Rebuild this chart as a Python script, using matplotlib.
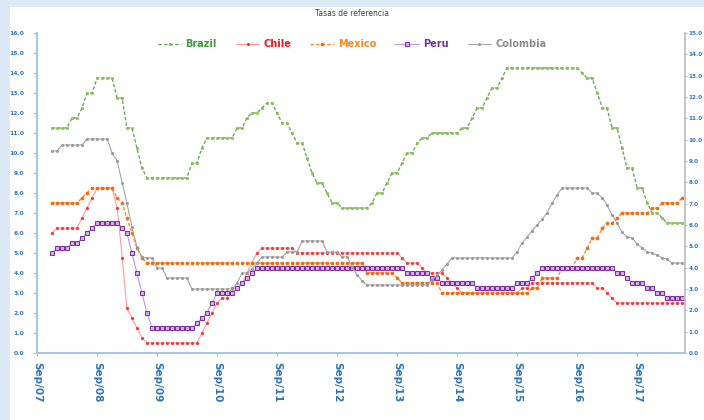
import matplotlib
matplotlib.use("Agg")
import matplotlib.pyplot as plt
from matplotlib.patches import Rectangle
import pandas as pd
from datetime import datetime

plt.rcParams['font.family'] = ['DejaVu Sans']

# monthly observations, Dec 2007 .. Jun 2018 (one row per calendar year)
dates = pd.date_range("2007-12-01", "2018-06-01", freq="MS")

brazil = [11.25,
          11.25, 11.25, 11.25, 11.75, 11.75, 12.25, 13.0, 13.0, 13.75, 13.75, 13.75, 13.75,
          12.75, 12.75, 11.25, 11.25, 10.25, 9.25, 8.75, 8.75, 8.75, 8.75, 8.75, 8.75,
          8.75, 8.75, 8.75, 9.5, 9.5, 10.25, 10.75, 10.75, 10.75, 10.75, 10.75, 10.75,
          11.25, 11.25, 11.75, 12.0, 12.0, 12.25, 12.5, 12.5, 12.0, 11.5, 11.5, 11.0,
          10.5, 10.5, 9.75, 9.0, 8.5, 8.5, 8.0, 7.5, 7.5, 7.25, 7.25, 7.25,
          7.25, 7.25, 7.25, 7.5, 8.0, 8.0, 8.5, 9.0, 9.0, 9.5, 10.0, 10.0,
          10.5, 10.75, 10.75, 11.0, 11.0, 11.0, 11.0, 11.0, 11.0, 11.25, 11.25, 11.75,
          12.25, 12.25, 12.75, 13.25, 13.25, 13.75, 14.25, 14.25, 14.25, 14.25, 14.25, 14.25,
          14.25, 14.25, 14.25, 14.25, 14.25, 14.25, 14.25, 14.25, 14.25, 14.0, 13.75, 13.75,
          13.0, 12.25, 12.25, 11.25, 11.25, 10.25, 9.25, 9.25, 8.25, 8.25, 7.5, 7.0,
          7.0, 6.75, 6.5, 6.5, 6.5, 6.5]

chile = [6.0,
         6.25, 6.25, 6.25, 6.25, 6.25, 6.75, 7.25, 7.75, 8.25, 8.25, 8.25, 8.25,
         7.25, 4.75, 2.25, 1.75, 1.25, 0.75, 0.5, 0.5, 0.5, 0.5, 0.5, 0.5,
         0.5, 0.5, 0.5, 0.5, 0.5, 1.0, 1.5, 2.0, 2.5, 2.75, 2.75, 3.25,
         3.25, 3.5, 4.0, 4.5, 5.0, 5.25, 5.25, 5.25, 5.25, 5.25, 5.25, 5.25,
         5.0, 5.0, 5.0, 5.0, 5.0, 5.0, 5.0, 5.0, 5.0, 5.0, 5.0, 5.0,
         5.0, 5.0, 5.0, 5.0, 5.0, 5.0, 5.0, 5.0, 5.0, 4.75, 4.5, 4.5,
         4.5, 4.25, 4.0, 4.0, 4.0, 4.0, 3.75, 3.5, 3.25, 3.0, 3.0, 3.0,
         3.0, 3.0, 3.0, 3.0, 3.0, 3.0, 3.0, 3.0, 3.0, 3.25, 3.25, 3.5,
         3.5, 3.5, 3.5, 3.5, 3.5, 3.5, 3.5, 3.5, 3.5, 3.5, 3.5, 3.5,
         3.25, 3.25, 3.0, 2.75, 2.5, 2.5, 2.5, 2.5, 2.5, 2.5, 2.5, 2.5,
         2.5, 2.5, 2.5, 2.5, 2.5, 2.5]

mexico = [7.5,
          7.5, 7.5, 7.5, 7.5, 7.5, 7.75, 8.0, 8.25, 8.25, 8.25, 8.25, 8.25,
          7.75, 7.5, 6.75, 6.0, 5.25, 4.75, 4.5, 4.5, 4.5, 4.5, 4.5, 4.5,
          4.5, 4.5, 4.5, 4.5, 4.5, 4.5, 4.5, 4.5, 4.5, 4.5, 4.5, 4.5,
          4.5, 4.5, 4.5, 4.5, 4.5, 4.5, 4.5, 4.5, 4.5, 4.5, 4.5, 4.5,
          4.5, 4.5, 4.5, 4.5, 4.5, 4.5, 4.5, 4.5, 4.5, 4.5, 4.5, 4.5,
          4.5, 4.5, 4.0, 4.0, 4.0, 4.0, 4.0, 4.0, 3.75, 3.5, 3.5, 3.5,
          3.5, 3.5, 3.5, 3.5, 3.5, 3.0, 3.0, 3.0, 3.0, 3.0, 3.0, 3.0,
          3.0, 3.0, 3.0, 3.0, 3.0, 3.0, 3.0, 3.0, 3.0, 3.0, 3.0, 3.25,
          3.25, 3.75, 3.75, 3.75, 3.75, 4.25, 4.25, 4.25, 4.75, 4.75, 5.25, 5.75,
          5.75, 6.25, 6.5, 6.5, 6.75, 7.0, 7.0, 7.0, 7.0, 7.0, 7.0, 7.25,
          7.25, 7.5, 7.5, 7.5, 7.5, 7.75]

peru = [5.0,
        5.25, 5.25, 5.25, 5.5, 5.5, 5.75, 6.0, 6.25, 6.5, 6.5, 6.5, 6.5,
        6.5, 6.25, 6.0, 5.0, 4.0, 3.0, 2.0, 1.25, 1.25, 1.25, 1.25, 1.25,
        1.25, 1.25, 1.25, 1.25, 1.5, 1.75, 2.0, 2.5, 3.0, 3.0, 3.0, 3.0,
        3.25, 3.5, 3.75, 4.0, 4.25, 4.25, 4.25, 4.25, 4.25, 4.25, 4.25, 4.25,
        4.25, 4.25, 4.25, 4.25, 4.25, 4.25, 4.25, 4.25, 4.25, 4.25, 4.25, 4.25,
        4.25, 4.25, 4.25, 4.25, 4.25, 4.25, 4.25, 4.25, 4.25, 4.25, 4.0, 4.0,
        4.0, 4.0, 4.0, 3.75, 3.75, 3.5, 3.5, 3.5, 3.5, 3.5, 3.5, 3.5,
        3.25, 3.25, 3.25, 3.25, 3.25, 3.25, 3.25, 3.25, 3.5, 3.5, 3.5, 3.75,
        4.0, 4.25, 4.25, 4.25, 4.25, 4.25, 4.25, 4.25, 4.25, 4.25, 4.25, 4.25,
        4.25, 4.25, 4.25, 4.25, 4.0, 4.0, 3.75, 3.5, 3.5, 3.5, 3.25, 3.25,
        3.0, 3.0, 2.75, 2.75, 2.75, 2.75]

colombia = [10.1,
            10.1, 10.4, 10.4, 10.4, 10.4, 10.4, 10.7, 10.7, 10.7, 10.7, 10.7, 10.0,
            9.6, 8.5, 7.5, 6.3, 5.3, 4.8, 4.75, 4.75, 4.25, 4.25, 3.75, 3.75,
            3.75, 3.75, 3.75, 3.2, 3.2, 3.2, 3.2, 3.2, 3.2, 3.2, 3.2, 3.2,
            3.5, 4.0, 4.0, 4.2, 4.5, 4.8, 4.8, 4.8, 4.8, 4.8, 5.05, 5.05,
            5.05, 5.6, 5.6, 5.6, 5.6, 5.6, 5.05, 5.05, 5.05, 4.8, 4.8, 4.3,
            3.9, 3.6, 3.4, 3.4, 3.4, 3.4, 3.4, 3.4, 3.4, 3.4, 3.4, 3.4,
            3.4, 3.4, 3.4, 3.65, 3.9, 4.15, 4.45, 4.75, 4.75, 4.75, 4.75, 4.75,
            4.75, 4.75, 4.75, 4.75, 4.75, 4.75, 4.75, 4.75, 5.05, 5.5, 5.8, 6.1,
            6.4, 6.7, 7.0, 7.5, 7.9, 8.25, 8.25, 8.25, 8.25, 8.25, 8.25, 8.0,
            8.0, 7.75, 7.4, 6.9, 6.5, 6.05, 5.8, 5.75, 5.45, 5.25, 5.05, 5.0,
            4.9, 4.75, 4.7, 4.5, 4.5, 4.5]

tick_dates = pd.date_range("2007-09-01", "2017-09-01", freq="12MS")
tick_labels = ['Sep/07', 'Sep/08', 'Sep/09', 'Sep/10', 'Sep/11', 'Sep/12',
               'Sep/13', 'Sep/14', 'Sep/15', 'Sep/16', 'Sep/17']
left_ticks = list(range(0, 17))
right_ticks = list(range(0, 16))

BLUE_TXT = '#2e75b6'
BLUE_AX = '#9dc3e6'

fig = plt.figure(figsize=(7.04, 4.2), dpi=100, facecolor='#dde9f6')
fig.add_artist(Rectangle((10 / 704, 0), 1, 413 / 420, transform=fig.transFigure,
                         facecolor='white', edgecolor='none', zorder=-10))

ax = fig.add_axes([37 / 704, 1 - 353 / 420, 648 / 704, 320 / 420])
ax.set_facecolor('none')

ax.plot(dates, brazil, color='#6aa86a', lw=1.0, ls=(0, (2.5, 1.5)),
        marker='s', ms=1.9, mfc='#8dc63f', mec='#79b83a', mew=0.4, label='Brazil')
ax.plot(dates, chile, color='#ff9a9a', lw=0.8,
        marker='o', ms=1.3, mfc='#ee3b3b', mec='#ee3b3b', label='Chile')
ax.plot(dates, mexico, color='#ff8c2e', lw=1.0, ls=(0, (2.5, 1.5)),
        marker='o', ms=1.6, mfc='#f26b0f', mec='#f26b0f', label='Mexico')
ax.plot(dates, peru, color='#c58fe0', lw=0.8,
        marker='s', ms=2.6, mfc='#d9a8f2', mec='#7a2a9a', mew=0.7, label='Peru')
ax.plot(dates, colombia, color='#a6a6a6', lw=0.8,
        marker='o', ms=1.2, mfc='#9a9a9a', mec='#9a9a9a', label='Colombia')

ax.set_xlim(datetime(2007, 9, 1), datetime(2018, 6, 19))
ax.set_ylim(0, 16)
ax.set_yticks(left_ticks)
ax.set_yticklabels([f'{v:.1f}' for v in left_ticks], fontweight='bold')
ax.set_xticks(tick_dates)
ax.set_xticklabels(tick_labels, rotation=-90, ha='center', va='top', fontweight='bold')

for side in ['top', 'right']:
    ax.spines[side].set_visible(False)
for side in ['left', 'bottom']:
    ax.spines[side].set_color(BLUE_AX)
    ax.spines[side].set_linewidth(1.3)

ax.tick_params(axis='y', colors=BLUE_AX, labelcolor=BLUE_TXT, labelsize=4.3,
               length=3, width=0.8, pad=6)
ax.tick_params(axis='x', colors=BLUE_AX, labelcolor=BLUE_TXT, labelsize=7.5,
               length=2.5, width=0.8, pad=4)

ax2 = ax.twinx()
ax2.set_ylim(0, 15)
ax2.set_yticks(right_ticks)
ax2.set_yticklabels([f'{v:.1f}' for v in right_ticks], fontweight='bold')
for side in ['top', 'left', 'bottom']:
    ax2.spines[side].set_visible(False)
ax2.spines['right'].set_color('#bfbfbf')
ax2.spines['right'].set_linewidth(1.3)
ax2.tick_params(axis='y', colors='#bfbfbf', labelcolor=BLUE_TXT, labelsize=4.1,
                length=1.5, width=0.8, pad=1.2)

fig.text(352 / 704, 1 - 14 / 420, 'Tasas de referencia', ha='center', va='center',
         fontsize=5.5, color='#404040')

leg = fig.legend(loc='center', bbox_to_anchor=(352 / 704, 1 - 44 / 420), ncol=5,
                 frameon=False, fontsize=7, handlelength=2.4, columnspacing=2.0,
                 handletextpad=0.4)
text_colors = ['#3c9d3c', '#f0141e', '#f7861f', '#7030a0', '#8c8c8c']
for txt, col in zip(leg.get_texts(), text_colors):
    txt.set_color(col)
    txt.set_fontweight('bold')

fig.savefig('out.png', dpi=100, facecolor=fig.get_facecolor())
